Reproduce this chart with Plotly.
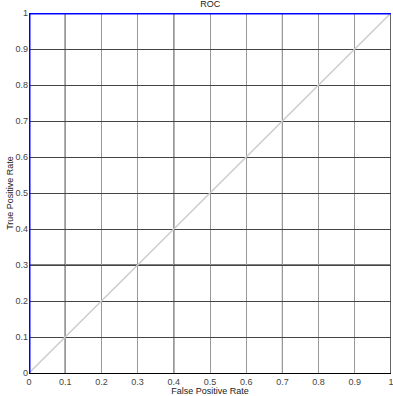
import plotly.graph_objects as go

roc_fpr = [0, 0, 1]
roc_tpr = [0, 1, 1]
diag = [0, 1]
tick_vals = [0, 0.1, 0.2, 0.3, 0.4, 0.5, 0.6, 0.7, 0.8, 0.9, 1]
tick_text = ["0", "0.1", "0.2", "0.3", "0.4", "0.5", "0.6", "0.7", "0.8", "0.9", "1"]
dark_x = [0.1, 0.4, 0.7]
dark_y = [0.3]
edge_x = [1]

fig = go.Figure()
fig.add_trace(go.Scatter(x=diag, y=diag, mode="lines",
                         line=dict(color="#cccccc", width=1.5), showlegend=False))
fig.add_trace(go.Scatter(x=roc_fpr, y=roc_tpr, mode="lines",
                         line=dict(color="#0000ff", width=3), showlegend=False))

shapes = []
for v in dark_x:
    shapes.append(dict(type="line", xref="x", yref="y", x0=v, x1=v, y0=0, y1=1,
                       line=dict(color="black", width=1), layer="below"))
for v in dark_y:
    shapes.append(dict(type="line", xref="x", yref="y", x0=0, x1=1, y0=v, y1=v,
                       line=dict(color="black", width=1), layer="below"))
for v in edge_x:
    shapes.append(dict(type="line", xref="x", yref="y", x0=v, x1=v, y0=0, y1=1,
                       line=dict(color="#666666", width=2), layer="below"))

fig.update_layout(
    width=393, height=396,
    margin=dict(l=29, r=2, t=13, b=23, autoexpand=False),
    paper_bgcolor="white", plot_bgcolor="white",
    font=dict(family="Liberation Sans, Arial", size=9, color="#222"),
    title=dict(text="ROC", x=0.535, xanchor="center", y=0.998, yanchor="top",
               font=dict(size=9, color="#222")),
    shapes=shapes,
)
fig.update_xaxes(range=[0, 1], tickvals=tick_vals, ticktext=tick_text, automargin=False,
                 showgrid=True, gridcolor="#999999", gridwidth=1,
                 zeroline=False, showline=True, linecolor="black", linewidth=1,
                 ticks="", ticklen=0, ticklabeloverflow="allow",
                 tickfont=dict(size=9, color="#444"),
                 title=dict(text="False Positive Rate", standoff=0, font=dict(size=9, color="#222")))
fig.update_yaxes(range=[0, 1], tickvals=tick_vals, ticktext=tick_text, automargin=False,
                 showgrid=True, gridcolor="#444444", gridwidth=1,
                 zeroline=False, showline=False,
                 ticks="", ticklen=0, ticklabeloverflow="allow",
                 tickfont=dict(size=9, color="#444"),
                 title=dict(text="True Positive Rate", standoff=0, font=dict(size=9, color="#222")))

fig.write_html("out.html", config={"displayModeBar": False},
               post_script="document.body.style.margin='0';document.body.style.overflow='hidden';")
